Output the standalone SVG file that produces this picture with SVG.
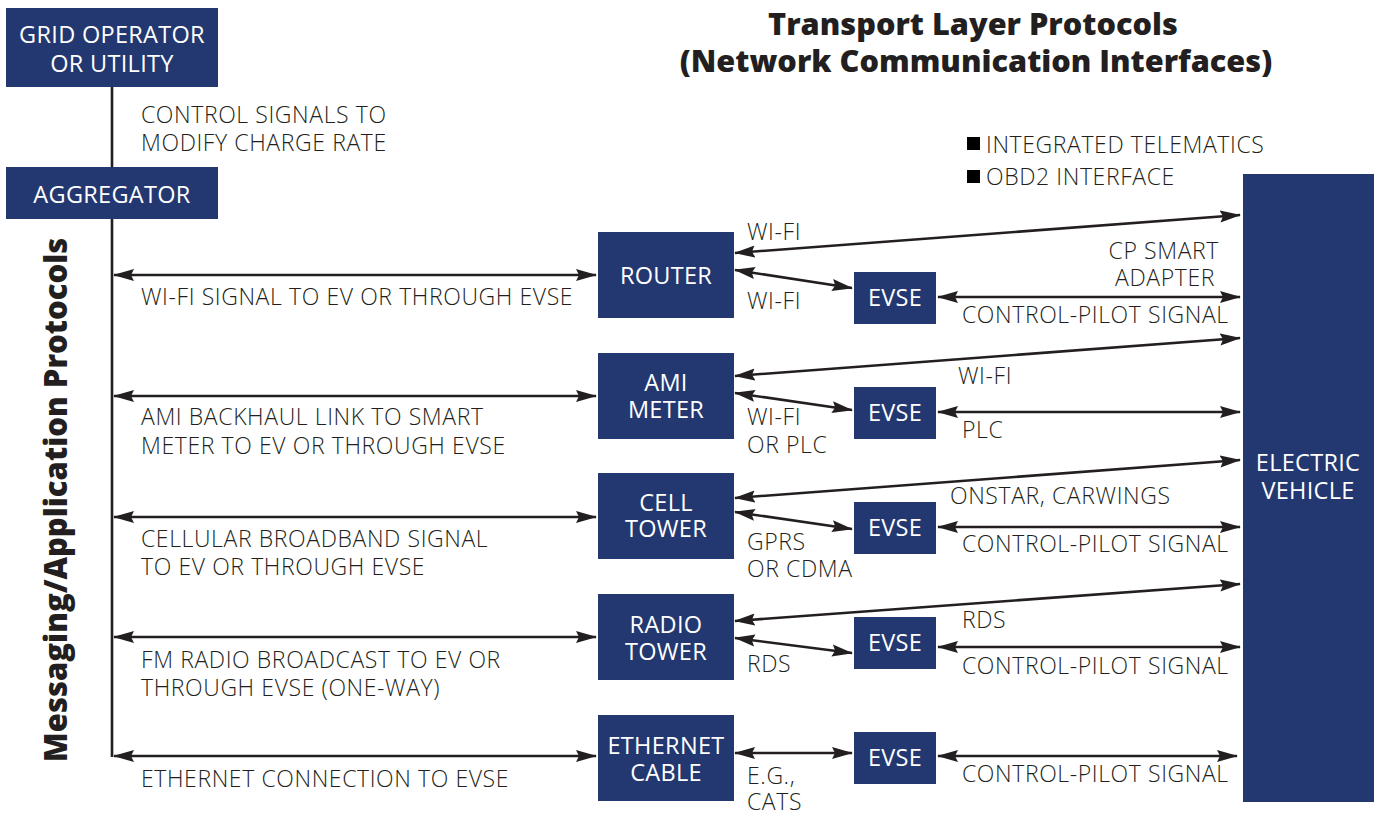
<svg xmlns="http://www.w3.org/2000/svg" width="1376" height="814" viewBox="0 0 1376 814">
<style>
.box{fill:#233870}
.nt{font-family:"Open Sans","Liberation Sans",sans-serif;font-size:23.5px;letter-spacing:0.3px;fill:#ffffff;text-anchor:middle}
.lb{font-family:"Open Sans","Liberation Sans",sans-serif;font-weight:300;font-size:23px;letter-spacing:0.6px;fill:#231f20}
.ln{stroke:#231f20;stroke-width:2.6;fill:none}
.ar{stroke:#231f20;stroke-width:2.6;fill:none;marker-start:url(#ah);marker-end:url(#ah)}
.ti{font-family:"Open Sans","Liberation Sans",sans-serif;font-weight:800;font-size:30.7px;fill:#231f20;text-anchor:middle}
</style>
<defs>
<marker id="ah" markerUnits="userSpaceOnUse" markerWidth="22" markerHeight="14" refX="20" refY="7" orient="auto-start-reverse" viewBox="0 0 22 14">
<path d="M0,1 L21,7 L0,13 L3,7 z" fill="#231f20"/>
</marker>
</defs>
<rect width="1376" height="814" fill="#ffffff"/>
<g id="titles">
<text class="ti" x="973" y="35">Transport Layer Protocols</text>
<text class="ti" x="976" y="72">(Network Communication Interfaces)</text>
<text class="ti" style="font-size:31px" transform="translate(67,500) rotate(-90)">Messaging/Application Protocols</text>
</g>
<g id="connectors">
<line class="ln" x1="112" y1="87" x2="112" y2="167"/>
<line class="ln" x1="112" y1="219" x2="112" y2="757"/>
<line class="ar" x1="114" y1="275" x2="596" y2="275"/>
<line class="ar" x1="114" y1="396" x2="596" y2="396"/>
<line class="ar" x1="114" y1="517" x2="596" y2="517"/>
<line class="ar" x1="114" y1="637" x2="596" y2="637"/>
<line class="ar" x1="114" y1="756" x2="596" y2="756"/>
<line class="ar" x1="735" y1="253" x2="1240" y2="215"/>
<line class="ar" x1="735" y1="270" x2="852" y2="288"/>
<line class="ar" x1="938" y1="297" x2="1240" y2="297"/>
<line class="ar" x1="735" y1="376" x2="1240" y2="338"/>
<line class="ar" x1="735" y1="393" x2="852" y2="410"/>
<line class="ar" x1="938" y1="412" x2="1240" y2="412"/>
<line class="ar" x1="735" y1="498" x2="1240" y2="460"/>
<line class="ar" x1="735" y1="512" x2="852" y2="529"/>
<line class="ar" x1="938" y1="527" x2="1240" y2="527"/>
<line class="ar" x1="735" y1="621" x2="1240" y2="584"/>
<line class="ar" x1="735" y1="638" x2="852" y2="653"/>
<line class="ar" x1="938" y1="647" x2="1240" y2="647"/>
<line class="ar" x1="735" y1="753" x2="852" y2="753"/>
<line class="ar" x1="938" y1="756" x2="1237" y2="756"/>
</g>
<g id="grid-operator"><rect class="box" x="6" y="8" width="212" height="79"/><text class="nt" x="112" y="43">GRID OPERATOR</text><text class="nt" x="112" y="72">OR UTILITY</text></g>
<g id="aggregator"><rect class="box" x="6" y="167" width="212" height="52"/><text class="nt" x="112" y="203">AGGREGATOR</text></g>
<g id="router"><rect class="box" x="598" y="232" width="136" height="86"/><text class="nt" x="666" y="284">ROUTER</text></g>
<g id="ami-meter"><rect class="box" x="598" y="353" width="136" height="86"/><text class="nt" x="666" y="391">AMI</text><text class="nt" x="666" y="418">METER</text></g>
<g id="cell-tower"><rect class="box" x="598" y="473" width="136" height="86"/><text class="nt" x="666" y="511">CELL</text><text class="nt" x="666" y="537">TOWER</text></g>
<g id="radio-tower"><rect class="box" x="598" y="594" width="136" height="86"/><text class="nt" x="666" y="633">RADIO</text><text class="nt" x="666" y="660">TOWER</text></g>
<g id="ethernet-cable"><rect class="box" x="598" y="715" width="136" height="86"/><text class="nt" x="666" y="754">ETHERNET</text><text class="nt" x="666" y="781">CABLE</text></g>
<g id="evse-1"><rect class="box" x="854" y="272" width="82" height="52"/><text class="nt" x="895" y="306">EVSE</text></g>
<g id="evse-2"><rect class="box" x="854" y="387" width="82" height="52"/><text class="nt" x="895" y="421">EVSE</text></g>
<g id="evse-3"><rect class="box" x="854" y="502" width="82" height="52"/><text class="nt" x="895" y="536">EVSE</text></g>
<g id="evse-4"><rect class="box" x="854" y="617" width="82" height="52"/><text class="nt" x="895" y="651">EVSE</text></g>
<g id="evse-5"><rect class="box" x="854" y="732" width="82" height="52"/><text class="nt" x="895" y="766">EVSE</text></g>
<g id="electric-vehicle"><rect class="box" x="1243" y="174" width="131" height="628"/><text class="nt" x="1308" y="471">ELECTRIC</text><text class="nt" x="1308" y="499">VEHICLE</text></g>
<g id="labels">
<text class="lb" x="141" y="123">CONTROL SIGNALS TO</text>
<text class="lb" x="141" y="151">MODIFY CHARGE RATE</text>
<text class="lb" x="141" y="305">WI-FI SIGNAL TO EV OR THROUGH EVSE</text>
<text class="lb" x="141" y="425">AMI BACKHAUL LINK TO SMART</text>
<text class="lb" x="141" y="454">METER TO EV OR THROUGH EVSE</text>
<text class="lb" x="141" y="547">CELLULAR BROADBAND SIGNAL</text>
<text class="lb" x="141" y="575">TO EV OR THROUGH EVSE</text>
<text class="lb" x="141" y="668">FM RADIO BROADCAST TO EV OR</text>
<text class="lb" x="141" y="696">THROUGH EVSE (ONE-WAY)</text>
<text class="lb" x="141" y="787">ETHERNET CONNECTION TO EVSE</text>
<text class="lb" x="747" y="240">WI-FI</text>
<text class="lb" x="747" y="309">WI-FI</text>
<text class="lb" x="1219" y="259" text-anchor="end">CP SMART</text>
<text class="lb" x="1215" y="286" text-anchor="end">ADAPTER</text>
<text class="lb" x="962" y="323">CONTROL-PILOT SIGNAL</text>
<text class="lb" x="958" y="384">WI-FI</text>
<text class="lb" x="747" y="425">WI-FI</text>
<text class="lb" x="747" y="453">OR PLC</text>
<text class="lb" x="962" y="438">PLC</text>
<text class="lb" x="950" y="504">ONSTAR, CARWINGS</text>
<text class="lb" x="962" y="552">CONTROL-PILOT SIGNAL</text>
<text class="lb" x="747" y="550">GPRS</text>
<text class="lb" x="747" y="577">OR CDMA</text>
<text class="lb" x="962" y="628">RDS</text>
<text class="lb" x="747" y="672">RDS</text>
<text class="lb" x="962" y="674">CONTROL-PILOT SIGNAL</text>
<text class="lb" x="747" y="784">E.G.,</text>
<text class="lb" x="747" y="810">CATS</text>
<text class="lb" x="962" y="782">CONTROL-PILOT SIGNAL</text>
<rect x="967" y="137" width="13" height="13" fill="#000000"/>
<text class="lb" x="986" y="153">INTEGRATED TELEMATICS</text>
<rect x="967" y="170" width="13" height="13" fill="#000000"/>
<text class="lb" x="986" y="185">OBD2 INTERFACE</text>
</g>
</svg>
